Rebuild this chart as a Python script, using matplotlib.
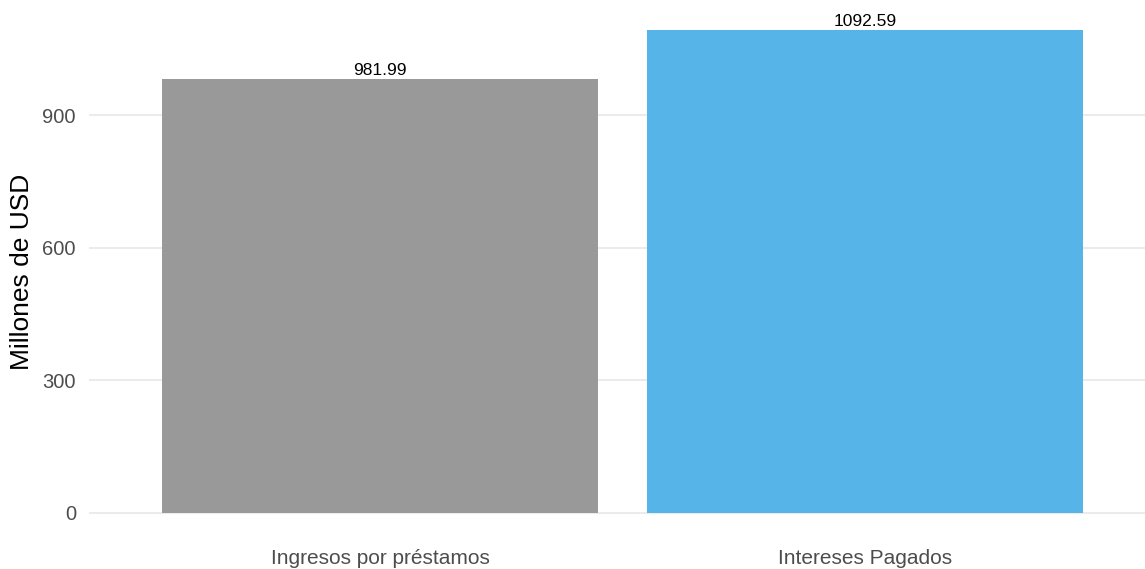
import matplotlib
matplotlib.use("Agg")
import matplotlib.pyplot as plt

plt.rcParams['font.family'] = ['Liberation Sans', 'DejaVu Sans']

categorias = ["Ingresos por préstamos", "Intereses Pagados"]
valores = [981.99, 1092.59]
colores = ["#999999", "#56B4E9"]
ticks_y = [0, 300, 600, 900]

fig = plt.figure(figsize=(11.45, 5.69), dpi=100)
ax = fig.add_axes([89 / 1145, 32 / 569, 1067 / 1145, 531 / 569])

pos = range(1, len(categorias) + 1)
ax.bar(pos, valores, width=0.9, color=colores, zorder=2)
for p, v in zip(pos, valores):
    ax.annotate(f"{v:.2f}", (p, v), xytext=(0, 1), textcoords="offset points",
                ha="center", va="bottom", fontsize=12.5, color="black")

ax.set_xlim(0.4, 2.6)
top = max(valores)
ax.set_ylim(-0.05 * top, 1.05 * top)
ax.set_yticks(ticks_y)
ax.set_xticks(list(pos))
ax.set_xticklabels(categorias)
ax.grid(axis="y", color="#EBEBEB", linewidth=1.5, zorder=0)
ax.tick_params(axis="y", length=0, pad=9.4, labelsize=14.5, labelcolor="#4D4D4D")
ax.tick_params(axis="x", length=0, pad=8.5, labelsize=15, labelcolor="#4D4D4D")
for s in ax.spines.values():
    s.set_visible(False)
ax.set_ylabel("Millones de USD", fontsize=19, color="black", labelpad=6)

fig.savefig("out.png", dpi=100)
